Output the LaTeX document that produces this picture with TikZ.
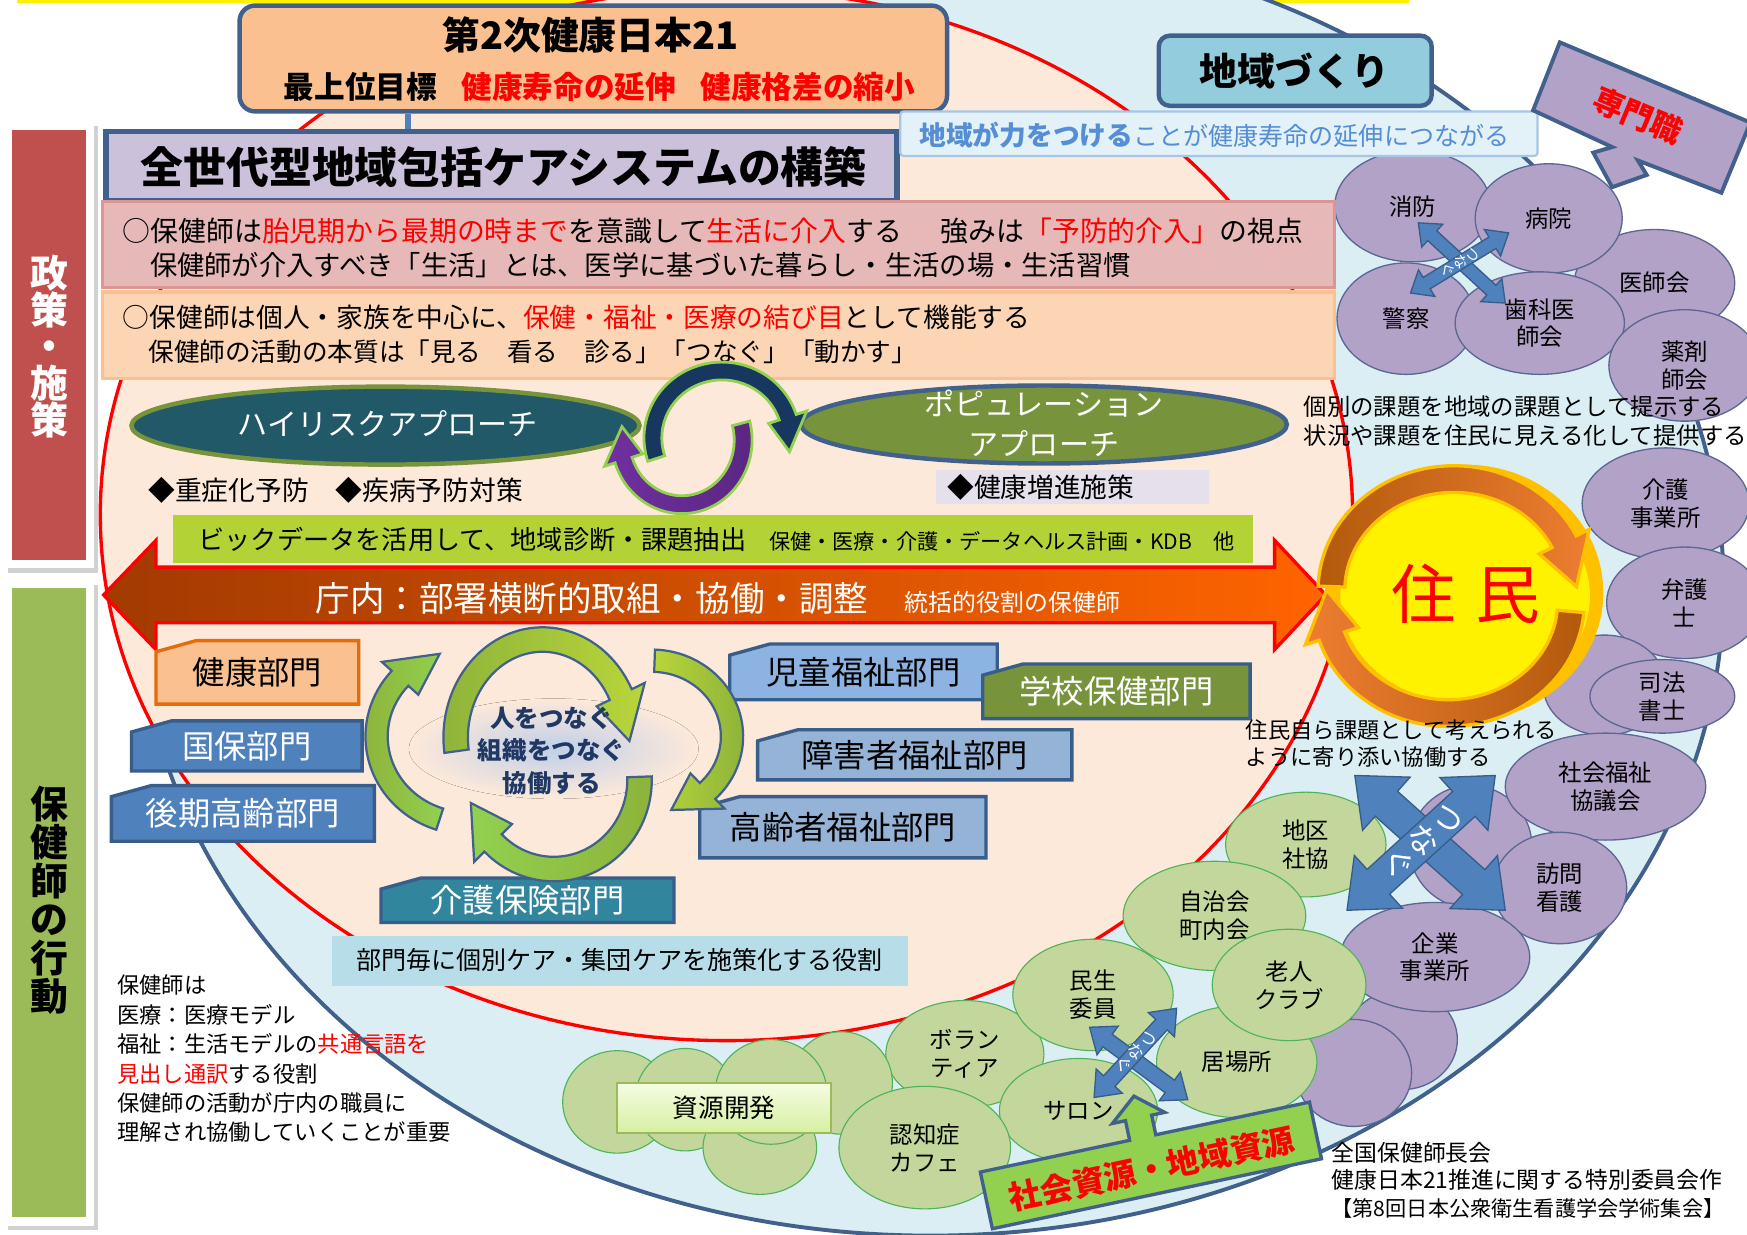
\documentclass[tikz,border=0pt]{standalone}
\usepackage{fontspec}
\setmainfont{Noto Sans CJK JP}
\usetikzlibrary{calc,shapes.geometric}
\definecolor{outerfill}{HTML}{DAEEF3}
\definecolor{outerdraw}{HTML}{41618C}
\definecolor{innerfill}{HTML}{FDE9D9}
\definecolor{peachA}{HTML}{FAC090}
\definecolor{lavA}{HTML}{CCC1DA}
\definecolor{pinkA}{HTML}{E6B9B8}
\definecolor{pinkB}{HTML}{D99694}
\definecolor{peachB}{HTML}{FCD5B5}
\definecolor{tealA}{HTML}{215968}
\definecolor{oliveA}{HTML}{77933C}
\definecolor{ygreen}{HTML}{B2D235}
\definecolor{purpA}{HTML}{B3A2C7}
\definecolor{purpD}{HTML}{5D6794}
\definecolor{grnA}{HTML}{C3D69B}
\definecolor{grnD}{HTML}{4FB35A}
\definecolor{blueA}{HTML}{4F81BD}
\definecolor{blueD}{HTML}{385D8A}
\definecolor{sideR}{HTML}{C0504D}
\definecolor{sideG}{HTML}{9BBB59}
\definecolor{navyA}{HTML}{17375E}
\definecolor{violA}{HTML}{7030A0}
\definecolor{lgA}{HTML}{92D050}
\definecolor{orgA}{HTML}{E46C0A}
\definecolor{goldA}{HTML}{FFC000}
\definecolor{skyA}{HTML}{93CDDD}
\definecolor{textblue}{HTML}{558ED5}
\definecolor{deptL}{HTML}{8DB3E2}
\definecolor{deptM}{HTML}{95B3D7}
\definecolor{tealB}{HTML}{31859C}
\definecolor{lblue}{HTML}{B7DEE8}
\definecolor{navyT}{HTML}{1F3864}
\definecolor{lavB}{HTML}{E5E0EC}
\definecolor{brownA}{HTML}{A23A02}
\definecolor{orangeM}{HTML}{E65500}
\definecolor{orangeB}{HTML}{FF6400}
\definecolor{arrD}{HTML}{B35A0C}
\definecolor{arrL}{HTML}{ED7D31}
\definecolor{cyc1}{HTML}{8DB33A}
\definecolor{cyc2}{HTML}{B9D53A}
\definecolor{glow}{HTML}{C0CFEA}
\definecolor{labbox}{HTML}{E3F1F8}
\definecolor{labdraw}{HTML}{A7C6E6}
\definecolor{kaiT}{HTML}{F5FCE3}
\definecolor{kaiB}{HTML}{D6F0A0}

\newcommand\fsz[2]{\fontsize{#1pt}{#2pt}\selectfont}
\newcommand\rtx[1]{\textcolor{red}{#1}}
% band arrow along an ellipse: style, center, rx, ry, t1, t2, half width, head half width, head angle
\newcommand\bandarrow[9]{%
 \pgfmathsetmacro\tthree{(#6>#5) ? (#6-#9) : (#6+#9)}%
 \pgfmathsetmacro\rxo{#3+#7}\pgfmathsetmacro\ryo{#4+#7}%
 \pgfmathsetmacro\rxi{#3-#7}\pgfmathsetmacro\ryi{#4-#7}%
 \pgfmathsetmacro\rxH{#3+#8}\pgfmathsetmacro\ryH{#4+#8}%
 \pgfmathsetmacro\rxh{#3-#8}\pgfmathsetmacro\ryh{#4-#8}%
 \path[#1] ($(#2)+(#5:\rxo pt and \ryo pt)$)
   arc[start angle=#5, end angle=\tthree, x radius=\rxo pt, y radius=\ryo pt]
   -- ($(#2)+(\tthree:\rxH pt and \ryH pt)$)
   -- ($(#2)+(#6:#3pt and #4pt)$)
   -- ($(#2)+(\tthree:\rxh pt and \ryh pt)$)
   -- ($(#2)+(\tthree:\rxi pt and \ryi pt)$)
   arc[start angle=\tthree, end angle=#5, x radius=\rxi pt, y radius=\ryi pt]
   -- cycle;}
% double headed block arrow: style, A, B, shaft half width, head half width, head length
\newcommand\dblarrow[6]{%
 \coordinate (pa) at ($(#2)!#6!(#3)$);
 \coordinate (pb) at ($(#3)!#6!(#2)$);
 \path[#1] (#2) -- ($(pa)!#5!90:(#3)$) -- ($(pa)!#4!90:(#3)$) -- ($(pb)!#4!-90:(#2)$)
   -- ($(pb)!#5!-90:(#2)$) -- (#3) -- ($(pb)!#5!90:(#2)$) -- ($(pb)!#4!90:(#2)$)
   -- ($(pa)!#4!-90:(#3)$) -- ($(pa)!#5!-90:(#3)$) -- cycle;}
% ellipse + label: name, x, y, rx, ry, text
\newcommand\pc[6]{\draw[pcirc] (#2,-#3) ellipse [x radius=#4pt, y radius=#5pt];
 \node[ctext] (#1) at (#2,-#3) {#6};}
\newcommand\pu[4]{\draw[pcirc] (#1,-#2) ellipse [x radius=#3pt, y radius=#4pt];}
\newcommand\gc[6]{\draw[gcirc] (#2,-#3) ellipse [x radius=#4pt, y radius=#5pt];
 \node[ctext] (#1) at (#2,-#3) {#6};}
\newcommand\gu[4]{\draw[gcirc] (#1,-#2) ellipse [x radius=#3pt, y radius=#4pt];}
\newcommand\dept[8]{%
 \draw[#1] (#3,-#4-10) -- (#3+36,-#4) -- (#5,-#4) -- (#5,-#6) -- (#3,-#6) -- cycle;
 \node[#7] (#2) at ({(#3+#5)/2},{-(#4+#6)/2}) {#8};}
\tikzset{
  pcirc/.style={fill=purpA, draw=purpD, line width=1.2pt},
  gcirc/.style={fill=grnA, draw=grnD, line width=1pt},
  ctext/.style={inner sep=0pt, align=center, font=\fsz{21}{25}},
  deptt/.style={font=\fsz{29}{29}, inner sep=0pt},
  deptw/.style={deptt, text=white},
  txt/.style={inner sep=0pt, anchor=west},
  deptbox/.style={draw=blueD, line width=3pt},
  bluearrow/.style={fill=blueA, draw=blueD, line width=1.2pt},
  cycarrow/.style={draw=outerdraw, line width=2pt},
}
\begin{document}
\begin{tikzpicture}[x=1pt,y=1pt]
\useasboundingbox (0,0) rectangle (1568,-1108);
\fill[white] (0,0) rectangle (1568,-1108);
\fill[yellow] (15,0) rectangle (1265,-2.5);

% big ellipses
\draw[fill=outerfill, draw=outerdraw, line width=3.5pt] (835,-527) ellipse [x radius=712pt, y radius=582pt];
\draw[fill=innerfill, draw=red, line width=3pt] (652,-462) ellipse [x radius=562pt, y radius=472pt];

% side bars
\fill[black!18] (7,-113) rectangle (88,-514);
\fill[white] (4,-108) rectangle (84,-510);
\fill[sideR] (11,-117) rectangle (77,-503);
\node[font={\fsz{34}{33}\bfseries}, text=white, align=center, inner sep=0pt] (seisaku) at (44,-311) {政\\策\\・\\施\\策};
\fill[black!18] (7,-525) rectangle (88,-1104);
\fill[white] (4,-520) rectangle (84,-1100);
\fill[sideG] (11,-528) rectangle (77,-1092);
\node[font={\fsz{34}{34.5}\bfseries}, align=center, inner sep=0pt] (kodo) at (44,-808) {保\\健\\師\\の\\行\\動};

% purple circles
\pc{ishi}{1485}{254}{72}{48}{医師会}
\pc{shobo}{1268}{185}{70}{50}{消防}
\pc{byoin}{1390}{196}{66}{49}{病院}
\pc{keisatsu}{1262}{286}{62}{50}{警察}
\pc{shika}{1382}{290}{76}{46}{歯科医\\師会}
\pc{yaku}{1512}{328}{68}{50}{薬剤\\師会}
\pc{kaigojig}{1495}{452}{75}{50}{介護\\事業所}
\pc{bengo}{1512}{541}{70}{50}{弁護\\士}
\pu{1440}{615}{55}{45}
\pc{shiho}{1492}{625}{65}{33}{司法\\書士}
\pu{1320}{760}{55}{55}
\pc{shakai}{1441}{706}{90}{48}{社会福祉\\協議会}
\pc{homon}{1400}{797}{60}{50}{訪問\\看護}
\pu{1258}{933}{50}{45}
\pu{1215}{963}{52}{48}
\pc{kigyo}{1288}{859}{85}{49}{企業\\事業所}

% green circles
\gc{chiku}{1172}{758}{72}{47}{地区\\社協}
\gc{jichi}{1090}{822}{82}{49}{自治会\\町内会}
\gc{vol}{866}{946}{71}{48}{ボラン\\ティア}
\gc{minsei}{981}{893}{72}{50}{民生\\委員}
\gc{ibasho}{1110}{953}{72}{50}{居場所}
\gc{rojin}{1157}{884}{69}{50}{老人\\クラブ}
\gc{salon}{968}{997}{71}{47}{サロン}
\gu{755}{972}{46}{46}
\gu{554}{989}{49}{46}
\gu{615}{987}{45}{46}
\gu{682}{1030}{51}{42}
\gu{692}{980}{50}{47}
\gc{ninchi}{830}{1030}{77}{55}{認知症\\カフェ}
\node[draw=sideG, line width=2pt, top color=kaiT, bottom color=kaiB, minimum width=192pt, minimum height=45pt, font=\fsz{23}{23}] (kaihatsu) at (650,-994.5) {資源開発};

% top boxes
\node[draw=outerdraw, line width=4pt, fill=peachA, rounded corners=14pt, minimum width=635pt, minimum height=95pt] (topbox) at (532.5,-52.5) {};
\node[font={\fsz{34}{34}\bfseries}, inner sep=0pt] (t21) at (530,-31) {第2次健康日本21};
\node[font={\fsz{27.5}{27.5}\bfseries}, inner sep=0pt] (goal) at (538,-78) {最上位目標\hspace{0.8em}\rtx{健康寿命の延伸}\hspace{0.8em}\rtx{健康格差の縮小}};
\node[draw=outerdraw, line width=5pt, fill=lavA, minimum width=710pt, minimum height=62pt] (zensedai) at (450,-149) {};
\coordinate (cx) at (366,0);
\draw[blueA, line width=5pt] (topbox.south -| cx) -- (zensedai.north -| cx);
\node[font={\fsz{38.5}{38.5}\bfseries}, inner sep=0pt] (zensedaiT) at (452,-150) {全世代型地域包括ケアシステムの構築};
\draw[fill=pinkA, draw=pinkB, line width=3pt] (92,-181) rectangle (1198,-258);
\draw[fill=peachB, draw=peachA, line width=3pt] (92,-262) rectangle (1198,-340);
\node[txt, font=\fsz{25}{25}] (p1) at (110,-207) {○保健師は\rtx{胎児期から最期の時まで}を意識して\rtx{生活に介入}する\hspace{1.4em}強みは\rtx{「予防的介入」}の視点};
\node[txt, font=\fsz{24.5}{24.5}] (p2) at (110,-238) {　保健師が介入すべき「生活」とは、医学に基づいた暮らし・生活の場・生活習慣};
\node[txt, font=\fsz{24}{24}] (p3) at (110,-285) {○保健師は個人・家族を中心に、\rtx{保健・福祉・医療の結び目}として機能する};
\node[txt, font=\fsz{23}{23}] (p4) at (110,-316) {　保健師の活動の本質は「見る　看る　診る」「つなぐ」「動かす」};

% 地域づくり
\node[draw=outerdraw, line width=4pt, fill=skyA, rounded corners=10pt, minimum width=245pt, minimum height=63pt] (chiikibox) at (1162.5,-63.5) {};
\node[font={\fsz{34}{34}\bfseries}, inner sep=0pt] (chiiki) at (1162,-64) {地域づくり};
\node[draw=labdraw, line width=2pt, fill=labbox, rounded corners=3pt, minimum width=572pt, minimum height=40pt] (labbox) at (1094,-120) {};
\node[txt, text=textblue] (lab) at (825,-121) {{\fsz{24}{24}\bfseries 地域が力をつける}{\fsz{22.5}{22.5}ことが健康寿命の延伸につながる}};

% 専門職
\draw[fill=purpA, draw=outerdraw, line width=3.5pt] (1400,-38) -- (1571,-110) -- (1545,-173) -- (1470,-144) -- (1478,-157) -- (1447,-168) -- (1430,-137) -- (1447,-132) -- (1376,-99) -- cycle;
\node[font={\fsz{28}{28}\bfseries}, text=red, rotate=-22.6, inner sep=0pt] (senmon) at (1470,-104) {専門職};

% approaches
\node[ellipse, fill=tealA, draw=oliveA, line width=4pt, minimum width=456pt, minimum height=70pt] (hr) at (346,-382) {};
\node[font=\fsz{27}{27}, text=white, inner sep=0pt] (hrT) at (348,-380) {ハイリスクアプローチ};
\node[ellipse, fill=oliveA, draw=outerdraw, line width=4pt, minimum width=436pt, minimum height=70pt] (pop) at (937,-381) {};
\node[font=\fsz{27}{36}, text=white, align=center, inner sep=0pt] (popT) at (937,-380) {ポピュレーション\\アプローチ};
\bandarrow{fill=navyA, draw=lgA, line width=2.5pt}{648,-393}{62}{60}{198}{-12}{8}{18}{30}
\bandarrow{left color=violA, right color=violA!80!black, draw=lgA, line width=2.5pt}{612,-395}{55}{58}{15}{-192}{8}{18}{30}
\node[txt, font=\fsz{24}{24}] (jusho) at (133,-440) {◆重症化予防　◆疾病予防対策};
\fill[lavB] (840,-422) rectangle (1085,-452);
\node[txt, font=\fsz{24}{24}] (zoshin) at (850,-437) {◆健康増進施策};

% big data bar
\fill[ygreen] (155,-462) rectangle (1125,-505);
\node[txt, font=\fsz{23.5}{23.5}] (bigdata) at (178,-484) {ビックデータを活用して、地域診断・課題抽出};
\node[txt, font=\fsz{19}{19}] (hoken) at (690,-486) {保健・医療・介護・データヘルス計画・KDB　他};

% big horizontal arrow
\path[draw=red, line width=3pt, left color=brownA, middle color=orangeM, right color=orangeB]
  (93,-534) -- (140,-485) -- (140,-509) -- (1144,-509) -- (1144,-485) -- (1190,-534) -- (1144,-583) -- (1144,-559) -- (140,-559) -- (140,-583) -- cycle;
\node[txt, text=white, font=\fsz{31}{31}] (chonai) at (283,-537) {庁内：部署横断的取組・協働・調整};
\node[txt, text=white, font=\fsz{21.5}{21.5}] (tokatsu) at (812,-541) {統括的役割の保健師};

% 住民
\fill[goldA] (1315,-532) ellipse [x radius=124pt, y radius=115pt];
\fill[yellow] (1315,-535) ellipse [x radius=112pt, y radius=96pt];
\bandarrow{left color=arrD, right color=arrL, draw=goldA, line width=3pt}{1305,-530}{110}{100}{178}{2}{12}{25}{24}
\bandarrow{left color=arrL, right color=arrD, draw=goldA, line width=3pt}{1300,-540}{110}{100}{-5}{-186}{12}{25}{24}
\node[font=\fsz{58}{58}, text=red, inner sep=0pt] (jumin) at (1316,-533) {住\hspace{0.3em}民};

% departments
\dept{fill=peachA, draw=orgA, line width=3pt}{kenko}{140}{575}{322}{632}{deptt}{健康部門}
\dept{fill=blueA, deptbox}{kokuho}{118}{647}{325}{692}{deptw}{国保部門}
\dept{fill=blueA, deptbox}{koki}{100}{705}{336}{755}{deptw}{後期高齢部門}
\dept{fill=deptL, deptbox}{jido}{655}{578}{895}{628}{deptt}{児童福祉部門}
\dept{fill=oliveA, deptbox}{gakko}{882}{596}{1122}{645}{deptw}{学校保健部門}
\dept{fill=deptM, deptbox}{shogai}{680}{655}{962}{700}{deptt}{障害者福祉部門}
\dept{fill=deptM, deptbox}{koreisha}{628}{715}{885}{770}{deptt}{高齢者福祉部門}
\dept{fill=tealB, deptbox}{kaigohoken}{342}{788}{605}{828}{deptw}{介護保険部門}
\fill[lblue] (298,-840) rectangle (815,-885);
\node[font=\fsz{22.5}{22.5}, inner sep=0pt] (bumon) at (556,-862) {部門毎に個別ケア・集団ケアを施策化する役割};

% cooperation cycle
\fill[inner color=glow, outer color=innerfill] (497,-672) ellipse [x radius=130pt, y radius=45pt];
\bandarrow{cycarrow, left color=cyc1, right color=cyc2}{487,-662}{78}{88}{188}{-2}{11}{24}{28}
\bandarrow{cycarrow, left color=cyc2, right color=cyc1}{585,-661}{72}{68}{88}{-76}{10}{22}{30}
\bandarrow{cycarrow, left color=lgA, right color=cyc1}{497,-700}{77}{80}{2}{-165}{11}{24}{30}
\bandarrow{cycarrow, left color=cyc1, right color=lgA}{420,-661}{82}{78}{252}{108}{10}{22}{30}
\node[font={\fsz{22}{29}\bfseries}, text=navyT, align=center, inner sep=0pt] (hito) at (495,-674) {人をつなぐ\\組織をつなぐ\\協働する};

% tsunagu arrows
\coordinate (a1s) at (1273,-200); \coordinate (a1e) at (1351,-272);
\coordinate (a2s) at (1354,-209); \coordinate (a2e) at (1266,-263);
\dblarrow{bluearrow}{a1s}{a1e}{6pt}{14pt}{17pt}
\dblarrow{bluearrow}{a2s}{a2e}{6pt}{14pt}{17pt}
\node[rotate=-58.5, text=white, font=\fsz{13}{13}, align=center, inner sep=0pt] (tsu1) at (1310,-236) {つ\\な\\ぐ};
\coordinate (b1s) at (1216,-696); \coordinate (b1e) at (1351,-817);
\coordinate (b2s) at (1342,-696); \coordinate (b2e) at (1209,-817);
\dblarrow{bluearrow}{b1s}{b1e}{15pt}{32pt}{38pt}
\dblarrow{bluearrow}{b2s}{b2e}{15pt}{32pt}{38pt}
\node[rotate=-47.7, text=white, font=\fsz{28}{30}, align=center, inner sep=0pt] (tsu2) at (1276,-756) {つ\\な\\ぐ};
\coordinate (c1s) at (978,-922); \coordinate (c1e) at (1066,-987);
\coordinate (c2s) at (1056,-905); \coordinate (c2e) at (982,-985);
\dblarrow{bluearrow}{c1s}{c1e}{7pt}{16pt}{20pt}
\dblarrow{bluearrow}{c2s}{c2e}{7pt}{16pt}{20pt}
\node[rotate=-42.8, text=white, font=\fsz{15}{16}, align=center, inner sep=0pt] (tsu3) at (1019,-945) {つ\\な\\ぐ};

% 社会資源・地域資源
\begin{scope}[shift={(1033,-1046)}, rotate=12]
\draw[fill=lgA, draw=outerdraw, line width=3pt] (-151,-26) -- (151,-26) -- (151,26) -- (10,26) -- (10,44) -- (22,44) -- (-2,64) -- (-26,44) -- (-14,44) -- (-14,26) -- (-151,26) -- cycle;
\node[font={\fsz{29}{29}\bfseries}, text=red, rotate=12, inner sep=0pt] (shigen) at (0,-3) {社会資源・地域資源};
\end{scope}

% free texts
\node[anchor=north west, align=left, font=\fsz{21}{26}, inner sep=0pt] (kobetsu) at (1170,-355) {個別の課題を地域の課題として提示する\\状況や課題を住民に見える化して提供する};
\node[anchor=north west, align=left, font=\fsz{20}{24}, inner sep=0pt] (jumin2) at (1118,-646) {住民自ら課題として考えられる\\ように寄り添い協働する};
\node[anchor=north west, align=left, font=\fsz{20}{26.4}, inner sep=0pt] (hokensi) at (105,-875) {保健師は\\医療：医療モデル\\福祉：生活モデルの\rtx{共通言語を}\\\rtx{見出し通訳}する役割\\保健師の活動が庁内の職員に\\理解され協働していくことが重要};
\node[anchor=north west, align=left, font=\fsz{20.5}{24.5}, inner sep=0pt] (credit) at (1195,-1025) {全国保健師長会\\健康日本21推進に関する特別委員会作\\{\fsz{19}{24.5}【第8回日本公衆衛生看護学会学術集会】}};
\end{tikzpicture}
\end{document}
